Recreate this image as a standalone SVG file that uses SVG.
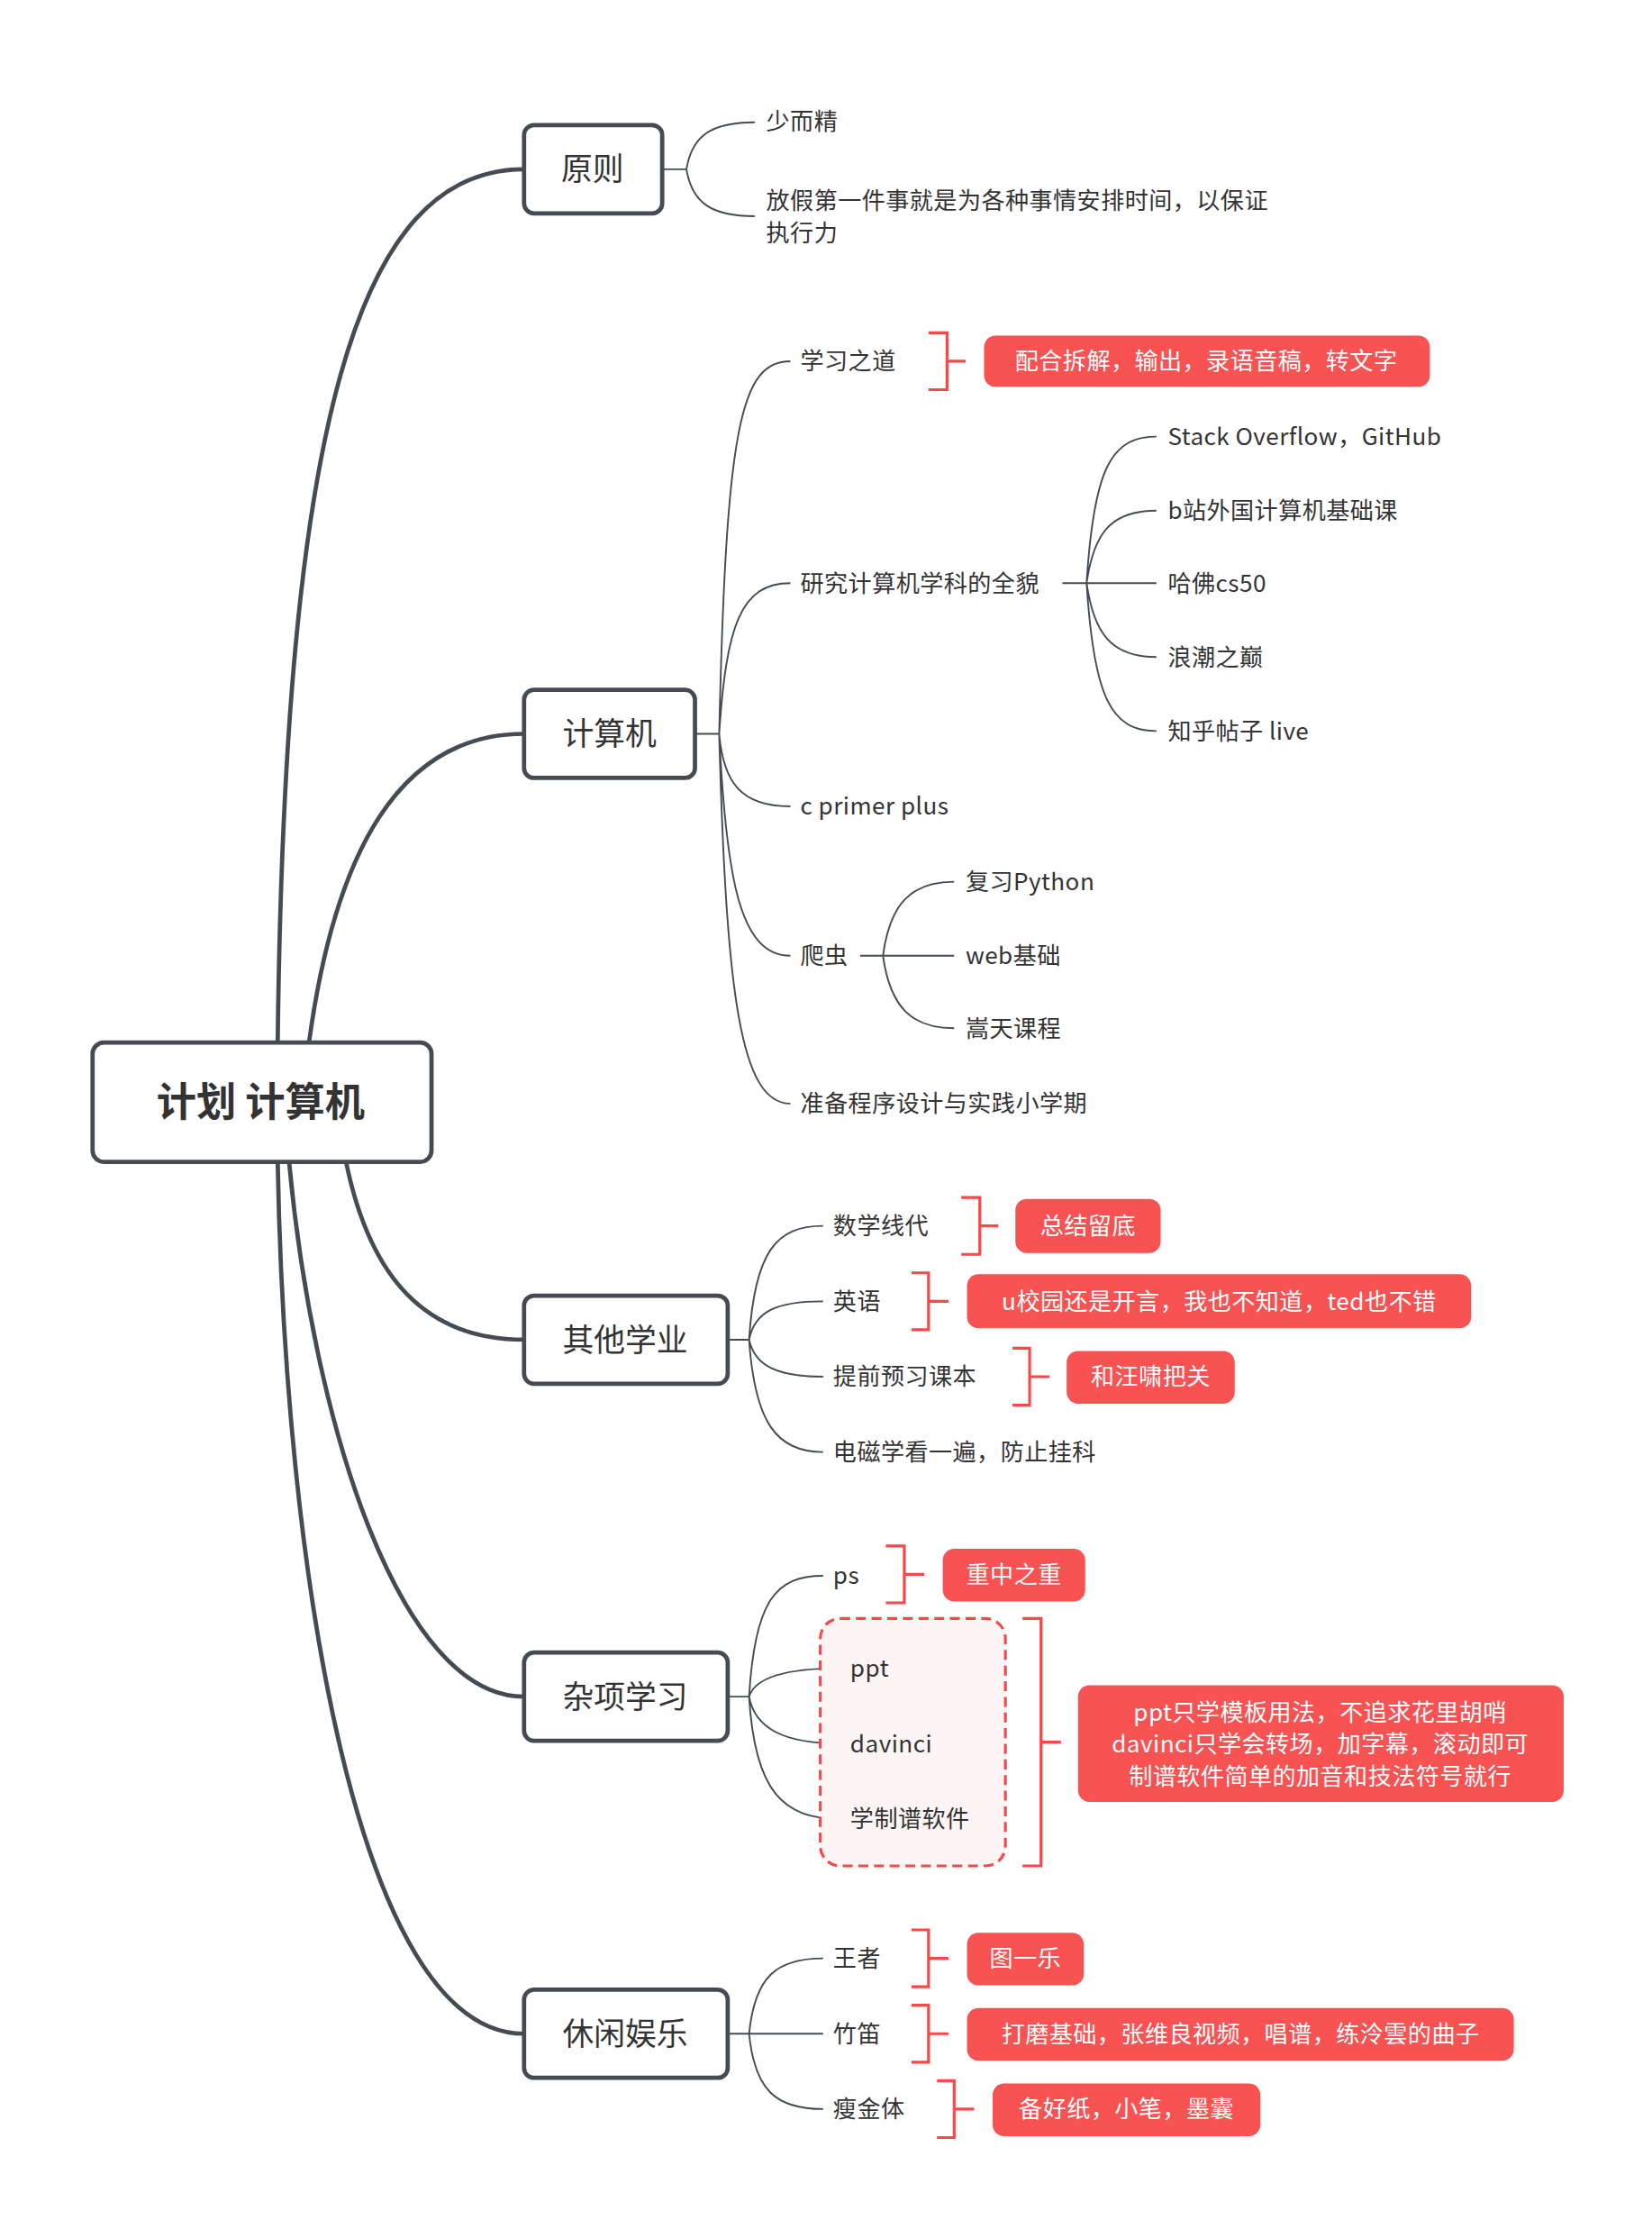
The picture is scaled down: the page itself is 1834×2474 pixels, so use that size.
<svg xmlns="http://www.w3.org/2000/svg" width="1834" height="2474" viewBox="0 0 1834 2474">
<style>
.n{fill:#fff;stroke:#444b52;stroke-width:3}
.t{font-family:"Noto Sans CJK SC","Noto Sans",sans-serif;fill:#333}
.m{font-size:22px;text-anchor:middle}
.s{font-size:16.5px;letter-spacing:0.3px}
.w{font-family:"Noto Sans CJK SC","Noto Sans",sans-serif;fill:#fff;font-size:16.5px;letter-spacing:0.3px;text-anchor:middle}
.c{fill:#f85252}
.k{fill:none;stroke:#444b52;stroke-width:3}
.l{fill:none;stroke:#444b52;stroke-width:1.2}
.b{fill:none;stroke:#f84848;stroke-width:2}
</style>
<rect width="1834" height="2474" fill="#fff"/>
<g transform="scale(1.581 1.5785)">
<g id="connectors">
<path class="k" d="M195,733 C200,300 250,119 368,119"/>
<path class="k" d="M217,733 C235,600 280,516 368,516"/>
<path class="k" d="M243,817 C260,900 300,942 368,942"/>
<path class="k" d="M203,817 C220,1000 280,1193 368,1193"/>
<path class="k" d="M195,817 C200,1100 250,1430 368,1430"/>
<path class="l" d="M465,119 H482 M482,119 C486,95 500,86 530,86 M482,119 C486,143 500,152 530,152"/>
<path class="l" d="M488,516 H505 M505,516 C510,300 520,254 555,254 M505,516 C510,440 520,410 555,410 M505,516 C508,550 520,567 555,567 M505,516 C510,620 520,672 555,672 M505,516 C510,700 520,776 555,776"/>
<path class="l" d="M746,410 H763 M763,410 C768,330 780,307 812,307 M763,410 C768,375 780,359 812,359 M763,410 H812 M763,410 C768,445 780,462 812,462 M763,410 C768,490 780,514 812,514"/>
<path class="l" d="M604,672 H620 M620,672 C625,635 640,620 670,620 M620,672 H670 M620,672 C625,708 640,723 670,723"/>
<path class="l" d="M511,942 H526 M526,942 C530,880 545,862 578,862 M526,942 C530,922 545,915 578,915 M526,942 C530,960 545,968 578,968 M526,942 C530,1000 545,1021 578,1021"/>
<path class="l" d="M511,1193 H526 M526,1193 C530,1125 545,1108 578,1108 M526,1193 C530,1180 550,1173 590,1173 M526,1193 C530,1215 550,1226 590,1226 M526,1193 C530,1260 550,1279 590,1279"/>
<path class="l" d="M511,1430 H526 M526,1430 C530,1390 545,1377 578,1377 M526,1430 H578 M526,1430 C530,1470 545,1483 578,1483"/>
</g>
<g id="root"><rect class="n" x="65" y="733" width="238" height="84" rx="8"/><text class="t" x="183" y="785" font-size="28" font-weight="bold" text-anchor="middle">计划 计算机</text></g>
<g id="n1"><rect class="n" x="368" y="88" width="97" height="62" rx="7"/><text class="t m" x="416" y="127">原则</text></g>
<g id="n2"><rect class="n" x="368" y="485" width="120" height="62" rx="7"/><text class="t m" x="428" y="524">计算机</text></g>
<g id="n3"><rect class="n" x="368" y="911" width="143" height="62" rx="7"/><text class="t m" x="439" y="950">其他学业</text></g>
<g id="n4"><rect class="n" x="368" y="1162" width="143" height="62" rx="7"/><text class="t m" x="439" y="1201">杂项学习</text></g>
<g id="n5"><rect class="n" x="368" y="1399" width="143" height="62" rx="7"/><text class="t m" x="439" y="1438">休闲娱乐</text></g>
<g id="leaves">
<text class="t s" x="538" y="91">少而精</text>
<text class="t s" x="538" y="147">放假第一件事就是为各种事情安排时间，以保证</text>
<text class="t s" x="538" y="170">执行力</text>
<text class="t s" x="562" y="260">学习之道</text>
<text class="t s" x="562" y="416">研究计算机学科的全貌</text>
<text class="t s" x="562" y="573">c primer plus</text>
<text class="t s" x="562" y="678">爬虫</text>
<text class="t s" x="562" y="782">准备程序设计与实践小学期</text>
<text class="t s" x="820" y="313">Stack Overflow，GitHub</text>
<text class="t s" x="820" y="365">b站外国计算机基础课</text>
<text class="t s" x="820" y="416">哈佛cs50</text>
<text class="t s" x="820" y="468">浪潮之巅</text>
<text class="t s" x="820" y="520">知乎帖子 live</text>
<text class="t s" x="678" y="626">复习Python</text>
<text class="t s" x="678" y="678">web基础</text>
<text class="t s" x="678" y="729">嵩天课程</text>
<text class="t s" x="585" y="868">数学线代</text>
<text class="t s" x="585" y="921">英语</text>
<text class="t s" x="585" y="974">提前预习课本</text>
<text class="t s" x="585" y="1027">电磁学看一遍，防止挂科</text>
<text class="t s" x="585" y="1114">ps</text>
<rect x="576" y="1138" width="130" height="174" rx="14" fill="#fdf5f5" stroke="#f84848" stroke-width="2" stroke-dasharray="7 4"/>
<text class="t s" x="597" y="1179">ppt</text>
<text class="t s" x="597" y="1232">davinci</text>
<text class="t s" x="597" y="1285">学制谱软件</text>
<text class="t s" x="585" y="1383">王者</text>
<text class="t s" x="585" y="1436">竹笛</text>
<text class="t s" x="585" y="1489">瘦金体</text>
</g>
<g id="callouts">
<path class="b" d="M652,234 H665 V274 H652 M665,254 H678"/>
<rect class="c" x="691" y="236" width="313" height="36" rx="8"/><text class="w" x="847" y="260">配合拆解，输出，录语音稿，转文字</text>
<path class="b" d="M675,842 H688 V882 H675 M688,862 H701"/>
<rect class="c" x="713" y="843" width="102" height="38" rx="8"/><text class="w" x="764" y="868">总结留底</text>
<path class="b" d="M640,895 H652 V935 H640 M652,915 H666"/>
<rect class="c" x="679" y="896" width="354" height="38" rx="8"/><text class="w" x="856" y="921">u校园还是开言，我也不知道，ted也不错</text>
<path class="b" d="M711,948 H723 V988 H711 M723,968 H737"/>
<rect class="c" x="749" y="950" width="118" height="37" rx="8"/><text class="w" x="808" y="974">和汪啸把关</text>
<path class="b" d="M622,1087 H635 V1127 H622 M635,1107 H649"/>
<rect class="c" x="662" y="1089" width="100" height="37" rx="8"/><text class="w" x="712" y="1113">重中之重</text>
<path class="b" d="M718,1138 H731 V1312 H718 M731,1225 H745"/>
<rect class="c" x="757" y="1185" width="341" height="82" rx="8"/>
<text class="w" x="927" y="1210">ppt只学模板用法，不追求花里胡哨</text>
<text class="w" x="927" y="1232">davinci只学会转场，加字幕，滚动即可</text>
<text class="w" x="927" y="1255">制谱软件简单的加音和技法符号就行</text>
<path class="b" d="M640,1357 H652 V1397 H640 M652,1377 H666"/>
<rect class="c" x="679" y="1359" width="82" height="37" rx="8"/><text class="w" x="720" y="1383">图一乐</text>
<path class="b" d="M640,1410 H652 V1450 H640 M652,1430 H666"/>
<rect class="c" x="679" y="1412" width="384" height="37" rx="8"/><text class="w" x="871" y="1436">打磨基础，张维良视频，唱谱，练泠雲的曲子</text>
<path class="b" d="M658,1463 H670 V1503 H658 M670,1483 H684"/>
<rect class="c" x="697" y="1465" width="188" height="37" rx="8"/><text class="w" x="791" y="1489">备好纸，小笔，墨囊</text>
</g>
</g>
</svg>
